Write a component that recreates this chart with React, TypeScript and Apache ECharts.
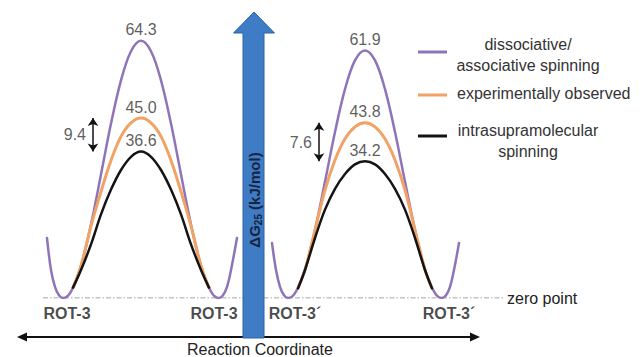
import React, { useEffect, useRef } from 'react';
import * as echarts from 'echarts';

const FONT = '"Liberation Sans", Arial, Helvetica, sans-serif';

// Legend / series names and colours
const seriesNames = [
  'dissociative/\nassociative spinning',
  'experimentally observed',
  'intrasupramolecular\nspinning',
];
const seriesColors = ['#8E74B8', '#F2A265', '#141414'];

// Reaction coordinate (x) and ΔG25 in kJ/mol (y) — ROT-3 profile
const purpleLx = [47, 51, 55, 59, 63, 71, 81, 91, 101, 111, 121, 131, 141, 151, 161, 171, 181, 191, 201, 211, 219, 223, 227, 231, 237];
const purpleLy = [15.0, 7.0, 2.8, 0.7, 0, 1.6, 8.1, 18.4, 30.9, 43.6, 54.4, 61.7, 64.3, 61.7, 54.4, 43.6, 30.9, 18.4, 8.1, 1.6, 0, 0.7, 2.8, 7.0, 15.0];
const innerLx = [73, 81, 91, 101, 111, 121, 131, 141, 151, 161, 171, 181, 191, 201, 209];
const orangeLy = [2.6, 8.0, 18.0, 26.6, 34.4, 40.4, 43.8, 45.0, 43.8, 40.4, 34.4, 26.6, 18.0, 8.0, 2.6];
const blackLy = [2.6, 7.0, 13.4, 20.9, 27.1, 32.0, 35.3, 36.6, 35.3, 32.0, 27.1, 20.9, 13.4, 7.0, 2.6];

// ROT-3´ profile
const purpleRx = [272, 276, 280, 284, 288, 295, 305, 315, 325, 335, 345, 355, 365, 375, 385, 395, 405, 415, 425, 435, 442, 446, 450, 454, 459];
const purpleRy = [13.75, 7.0, 2.8, 0.7, 0, 1.2, 7.1, 17.0, 29.1, 41.5, 52.2, 59.4, 61.9, 59.4, 52.2, 41.5, 29.1, 17.0, 7.1, 1.2, 0, 0.7, 2.8, 7.0, 13.75];
const innerRx = [298, 305, 315, 325, 335, 345, 355, 365, 375, 385, 395, 405, 415, 425, 432];
const orangeRy = [2.5, 7.1, 17.0, 27.0, 34.5, 39.8, 42.8, 43.8, 42.8, 39.8, 34.5, 27.0, 17.0, 7.1, 2.5];
const blackRy = [2.4, 7.0, 15.0, 22.1, 27.3, 31.0, 33.4, 34.2, 33.4, 31.0, 27.3, 22.1, 15.0, 7.0, 2.4];

// Barrier peaks (labelled values)
const peakX = [141, 141, 141, 365, 365, 365];
const peakY = [64.3, 45.0, 36.6, 61.9, 43.8, 34.2];

// Differences between observed and intrasupramolecular barriers
const gapX = [93, 319];
const gapTop = [45.0, 43.8];
const gapBottom = [36.6, 34.2];
const gapLabels = ['9.4', '7.6'];

// Minima (zero point)
const wellX = [63, 219, 288, 442];
const wellLabels = ['ROT-3', 'ROT-3', 'ROT-3\u00B4', 'ROT-3\u00B4'];
const zeroLineX = [43, 505];

const zip = (xs: number[], ys: number[]) => xs.map((x, i) => [x, ys[i]]);

function curve(name: string, color: string, width: number, xs: number[], ys: number[]) {
  return {
    name,
    type: 'line',
    data: zip(xs, ys),
    smooth: 0.35,
    symbol: 'none',
    silent: true,
    lineStyle: { color, width, cap: 'round' },
    z: 3,
  };
}

export default function App() {
  const ref = useRef<HTMLDivElement>(null);

  useEffect(() => {
    if (!ref.current) return;
    const chart = echarts.init(ref.current, null, { renderer: 'svg' });

    const legendY = [52, 95, 136];
    const legendTextX = [528, 457, 528];
    const legendTextY = [54.5, 93, 141];
    const legendAlign = ['center', 'left', 'center'];
    const wellLabelShift = [4, -5, 7, 7];

    const legendGraphics: any[] = [];
    seriesNames.forEach((n, i) => {
      legendGraphics.push({
        type: 'line',
        shape: { x1: 418, y1: legendY[i], x2: 447, y2: legendY[i] },
        style: { stroke: seriesColors[i], lineWidth: 3 },
      });
      legendGraphics.push({
        type: 'text',
        x: legendTextX[i],
        y: legendTextY[i],
        style: {
          text: n,
          font: `16px ${FONT}`,
          fill: '#333',
          align: legendAlign[i],
          verticalAlign: 'middle',
          lineHeight: 21,
        },
      });
    });

    const option: any = {
      animation: false,
      backgroundColor: '#ffffff',
      grid: { left: 0, right: 0, top: 18, bottom: 59 },
      xAxis: { type: 'value', min: 0, max: 640, show: false },
      yAxis: { type: 'value', min: 0, max: 70, show: false },
      series: [
        {
          type: 'line',
          data: zeroLineX.map((x) => [x, 0]),
          symbol: 'none',
          silent: true,
          lineStyle: { color: '#8a8a8a', width: 1.2, type: [5, 2, 1.5, 2] },
          endLabel: {
            show: true,
            formatter: 'zero point',
            distance: 2,
            fontSize: 16,
            fontFamily: FONT,
            color: '#222',
          },
          z: 1,
        },
        curve(seriesNames[0], seriesColors[0], 2.5, purpleLx, purpleLy),
        curve(seriesNames[0], seriesColors[0], 2.5, purpleRx, purpleRy),
        curve(seriesNames[1], seriesColors[1], 3, innerLx, orangeLy),
        curve(seriesNames[1], seriesColors[1], 3, innerRx, orangeRy),
        curve(seriesNames[2], seriesColors[2], 2.5, innerLx, blackLy),
        curve(seriesNames[2], seriesColors[2], 2.5, innerRx, blackRy),
        {
          type: 'scatter',
          data: zip(peakX, peakY),
          symbolSize: 0,
          silent: true,
          label: {
            show: true,
            position: 'top',
            distance: 3,
            fontSize: 16,
            fontFamily: FONT,
            color: '#333',
            formatter: (p: any) => Number(p.value[1]).toFixed(1),
          },
          z: 5,
        },
        {
          type: 'scatter',
          data: gapX.map((x, i) => [x, (gapTop[i] + gapBottom[i]) / 2]),
          symbolSize: 0,
          silent: true,
          label: {
            show: true,
            position: 'left',
            distance: 7,
            fontSize: 16,
            fontFamily: FONT,
            color: '#333',
            formatter: (p: any) => gapLabels[p.dataIndex],
          },
          markLine: {
            silent: true,
            symbol: ['arrow', 'arrow'],
            symbolSize: 8,
            label: { show: false },
            lineStyle: { color: '#111', width: 1.5, type: 'solid' },
            data: gapX.map((x, i) => [{ coord: [x, gapTop[i]] }, { coord: [x, gapBottom[i]] }]),
          },
          z: 5,
        },
        {
          type: 'scatter',
          data: wellX.map((x, i) => ({ value: [x, 0], label: { offset: [wellLabelShift[i], 0] } })),
          symbolSize: 0,
          silent: true,
          label: {
            show: true,
            position: 'bottom',
            distance: 7,
            fontSize: 16,
            fontWeight: 'bold',
            fontFamily: FONT,
            color: '#1a1a1a',
            formatter: (p: any) => wellLabels[p.dataIndex],
          },
          z: 5,
        },
      ],
      graphic: [
        {
          type: 'line',
          shape: { x1: 24, y1: 337, x2: 473, y2: 337 },
          style: { stroke: '#111', lineWidth: 2 },
          z: 1,
        },
        {
          type: 'polygon',
          shape: { points: [[17, 337], [27, 332.5], [27, 341.5]] },
          style: { fill: '#111' },
          z: 1,
        },
        {
          type: 'polygon',
          shape: { points: [[480, 337], [470, 332.5], [470, 341.5]] },
          style: { fill: '#111' },
          z: 1,
        },
        {
          type: 'text',
          x: 260,
          y: 349,
          style: {
            text: 'Reaction Coordinate',
            font: `16px ${FONT}`,
            fill: '#222',
            align: 'center',
            verticalAlign: 'middle',
          },
        },
        {
          type: 'polygon',
          shape: {
            points: [[254, 12], [274.5, 33], [264, 33], [264, 338], [243, 338], [243, 33], [233.5, 33]],
          },
          style: { fill: '#3E7CC5', stroke: '#2C63A6', lineWidth: 1 },
          z: 10,
        },
        {
          type: 'text',
          x: 254,
          y: 200,
          rotation: Math.PI / 2,
          style: {
            text: '{a|\u0394G}{b|25}{a| (kJ/mol)}',
            align: 'center',
            verticalAlign: 'middle',
            rich: {
              a: { font: `bold 15px ${FONT}`, fill: '#17233f', lineHeight: 18 },
              b: { font: `bold 10px ${FONT}`, fill: '#17233f', lineHeight: 18, verticalAlign: 'bottom' },
            },
          },
          z: 11,
        },
        ...legendGraphics,
      ],
    };

    chart.setOption(option);
    return () => chart.dispose();
  }, []);

  return (
    <div
      ref={ref}
      style={{ position: 'fixed', left: 0, top: 0, width: 640, height: 357, background: '#fff' }}
    />
  );
}
